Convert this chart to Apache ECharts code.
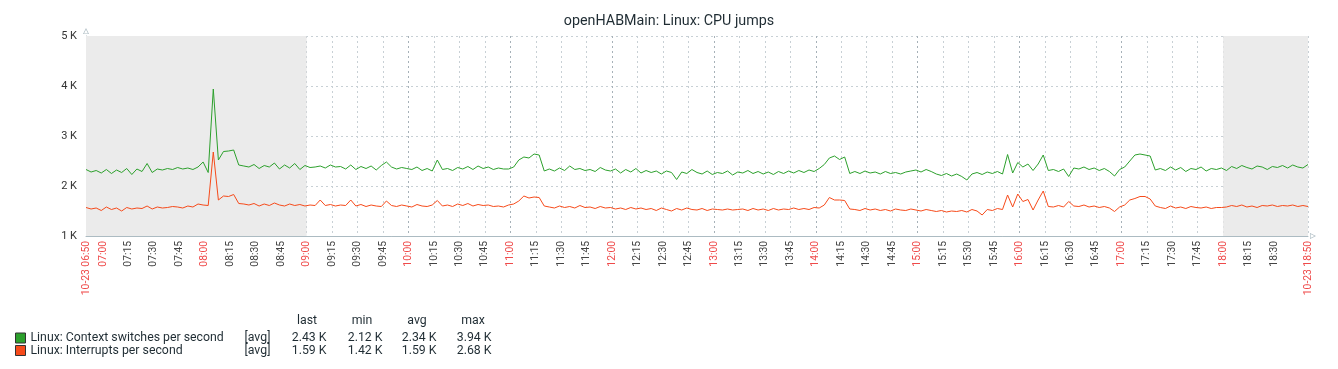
<!DOCTYPE html>
<html><head><meta charset="utf-8">
<script src="https://cdn.jsdelivr.net/npm/echarts@6/dist/echarts.min.js"></script>
<style>html,body{margin:0;padding:0;background:#fff}#c{width:1338px;height:369px}</style>
</head><body><div id="c"></div>
<script>
// 3-minute samples from 10-23 06:50 to 18:50
const STEP = 3;
const START_MIN = 6 * 60 + 50;
const TOTAL_MIN = 720;
const DATE_PREFIX = '10-23 ';
const TITLE = 'openHABMain: Linux: CPU jumps';
const seriesNames = ['Linux: Context switches per second', 'Linux: Interrupts per second'];
const seriesColors = ['#2ca02c', '#f64a1a'];
const statHeaders = ['last', 'min', 'avg', 'max'];
const statsCtx = ['2.43 K', '2.12 K', '2.34 K', '3.94 K'];
const statsInt = ['1.59 K', '1.42 K', '1.59 K', '2.68 K'];
const yTicks = [1000, 2000, 3000, 4000, 5000];
const shaded = [['06:50', '09:00'], ['18:00', '18:50']];

const ctxSwitches = [
  2330,2280,2310,2260,2330,2250,2320,2270,2350,2230,
  2340,2290,2450,2270,2340,2320,2350,2330,2370,2340,
  2360,2330,2380,2480,2270,3940,2520,2690,2700,2720,
  2420,2400,2380,2430,2350,2410,2380,2460,2340,2420,
  2360,2450,2330,2410,2370,2380,2400,2360,2420,2380,
  2390,2340,2420,2330,2390,2350,2400,2320,2410,2480,
  2380,2340,2370,2350,2330,2380,2310,2350,2300,2520,
  2330,2350,2310,2370,2340,2390,2330,2400,2350,2380,
  2330,2360,2340,2340,2380,2520,2580,2560,2640,2620,
  2300,2340,2300,2360,2310,2400,2330,2350,2310,2330,
  2290,2370,2320,2300,2340,2260,2330,2280,2350,2260,
  2310,2270,2300,2240,2300,2270,2130,2280,2250,2330,
  2270,2240,2300,2230,2270,2250,2300,2220,2280,2260,
  2310,2250,2290,2240,2280,2230,2290,2250,2300,2260,
  2310,2270,2320,2290,2350,2430,2560,2600,2530,2580,
  2250,2290,2250,2300,2260,2280,2240,2290,2250,2270,
  2240,2280,2300,2320,2280,2330,2290,2240,2210,2250,
  2200,2240,2190,2120,2240,2270,2230,2280,2250,2290,
  2240,2630,2260,2470,2380,2440,2310,2440,2620,2310,
  2330,2290,2340,2190,2360,2340,2380,2330,2360,2310,
  2350,2290,2200,2330,2380,2500,2620,2640,2620,2600,
  2320,2350,2310,2380,2320,2370,2290,2350,2330,2380,
  2300,2350,2330,2360,2310,2390,2350,2410,2370,2340,
  2400,2380,2330,2390,2370,2410,2360,2420,2380,2360,
  2430
];
const interrupts = [
  1570,1540,1560,1510,1580,1530,1560,1500,1570,1540,
  1560,1550,1600,1540,1580,1560,1570,1590,1580,1560,
  1600,1580,1640,1620,1610,2680,1720,1800,1790,1830,
  1650,1640,1620,1650,1600,1640,1610,1660,1620,1600,
  1640,1610,1630,1600,1620,1610,1720,1610,1630,1600,
  1620,1610,1720,1600,1630,1590,1620,1600,1590,1700,
  1610,1590,1620,1600,1580,1630,1600,1590,1620,1710,
  1600,1620,1590,1640,1610,1650,1600,1630,1610,1620,
  1590,1600,1580,1620,1640,1700,1800,1760,1780,1770,
  1600,1580,1560,1600,1570,1590,1560,1610,1570,1580,
  1550,1590,1560,1570,1540,1560,1530,1570,1540,1560,
  1530,1550,1510,1560,1530,1500,1550,1520,1560,1530,
  1520,1550,1510,1540,1530,1520,1540,1520,1530,1540,
  1510,1550,1520,1540,1510,1550,1520,1540,1530,1560,
  1530,1550,1530,1570,1560,1620,1770,1720,1720,1710,
  1540,1530,1510,1550,1520,1540,1510,1530,1500,1540,
  1520,1510,1540,1520,1500,1530,1510,1490,1510,1480,
  1500,1490,1510,1480,1530,1500,1420,1530,1510,1550,
  1530,1820,1580,1840,1690,1730,1520,1720,1900,1590,
  1580,1610,1580,1690,1600,1590,1620,1580,1600,1570,
  1590,1560,1490,1580,1620,1720,1750,1790,1790,1740,
  1600,1570,1550,1600,1560,1580,1550,1590,1570,1560,
  1580,1550,1570,1570,1580,1610,1590,1620,1580,1600,
  1570,1610,1600,1620,1590,1610,1600,1620,1590,1610,
  1590
];

// minute categories
const categories = [];
for (let m = 0; m <= TOTAL_MIN; m++) {
  const t = START_MIN + m;
  const hh = String(Math.floor(t / 60)).padStart(2, '0');
  const mm = String(t % 60).padStart(2, '0');
  categories.push(hh + ':' + mm);
}
const toPairs = arr => arr.map((v, i) => [categories[i * STEP], v]);
const isEdge = i => i === 0 || i === TOTAL_MIN;
const isQuarter = i => (START_MIN + i) % 15 === 0;
const isHour = i => (START_MIN + i) % 60 === 0;
// a quarter label too close to the end label is skipped
const labelShown = i => isEdge(i) || (isQuarter(i) && TOTAL_MIN - i > 8);

const chart = echarts.init(document.getElementById('c'), null, {renderer: 'canvas'});
const FONT = 'Roboto';
const TXT = '#1f2c33';
const AXIS = '#acbbc2';
const hollowArrow = 'path://M0,10 L5,0 L10,10 Z M1.6,9 L8.4,9 L5,2.4 Z';

function legendRow(name, stats) {
  return '{n|' + name + '}{a|[avg]}{v1|' + stats[0] + '}{v2|' + stats[1] + '}{v3|' + stats[2] + '}{v4|' + stats[3] + '}';
}
const statMap = {};
statMap[seriesNames[0]] = statsCtx;
statMap[seriesNames[1]] = statsInt;

const headerX = [307, 362, 417, 473];
const richCol = (w, al) => ({width: w, align: al, fontSize: 12.3, color: TXT, lineHeight: 14.5, fontFamily: FONT});

chart.setOption({
  animation: false,
  textStyle: {fontFamily: FONT},
  title: {
    text: TITLE, left: 'center', top: 9,
    textStyle: {fontSize: 14.3, fontWeight: 'normal', color: TXT, fontFamily: FONT}
  },
  grid: {left: 86, right: 30, top: 36, bottom: 133, containLabel: false},
  xAxis: [{
    type: 'category', data: categories, boundaryGap: false,
    axisLine: {show: true, lineStyle: {color: AXIS, width: 1},
      symbol: ['none', hollowArrow], symbolSize: [8, 6], symbolOffset: [0, 5]},
    axisTick: {show: false},
    axisLabel: {
      interval: (i) => labelShown(i),
      showMinLabel: true, showMaxLabel: true, hideOverlap: false,
      rotate: 90, fontSize: 10.3, color: '#444', margin: 5, fontFamily: FONT,
      formatter: (v, i) => {
        if (i === 0 || i === TOTAL_MIN) return '{r|' + DATE_PREFIX + v + '}';
        if (v.endsWith(':00')) return '{r|' + v + '}';
        return v;
      },
      rich: {r: {color: '#ef4a4a', fontSize: 10.3, fontFamily: FONT}}
    },
    splitLine: {show: true, interval: (i) => (isQuarter(i) && !isHour(i)) || i === TOTAL_MIN,
      lineStyle: {color: '#c8d0d5', type: [2, 3], width: 1}}
  }, {
    type: 'category', data: categories, boundaryGap: false, position: 'top',
    axisLine: {show: false}, axisTick: {show: false}, axisLabel: {show: false},
    splitLine: {show: true, interval: (i) => isHour(i),
      lineStyle: {color: '#a6b1b8', type: [2, 3], width: 1}}
  }],
  yAxis: {
    type: 'value', min: yTicks[0], max: yTicks[yTicks.length - 1], interval: 1000,
    axisLine: {show: true, lineStyle: {color: AXIS, width: 1},
      symbol: ['none', hollowArrow], symbolSize: [8, 6], symbolOffset: [0, 5]},
    axisTick: {show: false},
    axisLabel: {fontSize: 11, color: '#333', margin: 9, fontFamily: FONT,
      formatter: v => (v / 1000) + ' K'},
    splitLine: {show: true, lineStyle: {color: '#c8d0d5', type: [2, 3], width: 1}}
  },
  legend: {
    orient: 'vertical', left: 10, top: 327, itemWidth: 10, itemHeight: 10, itemGap: 0.5,
    icon: 'rect', selectedMode: false,
    data: seriesNames.map((n, k) => ({name: n, itemStyle: {color: seriesColors[k], borderColor: '#333', borderWidth: 1}})),
    formatter: n => legendRow(n, statMap[n]),
    textStyle: {
      color: TXT, fontSize: 12.3, fontFamily: FONT, padding: [0, 0, 0, 0],
      rich: {
        n: richCol(214, 'left'),
        a: richCol(29, 'left'),
        v1: richCol(53, 'right'),
        v2: richCol(56, 'right'),
        v3: richCol(54, 'right'),
        v4: richCol(55, 'right')
      }
    }
  },
  graphic: statHeaders.map((h, k) => ({
    type: 'text', x: headerX[k], y: 315,
    style: {text: h, fill: TXT, fontSize: 12.3, fontFamily: FONT, textAlign: 'center'}
  })),
  series: [{
    name: '__shade', type: 'line', z: -1, silent: true, data: toPairs(ctxSwitches),
    showSymbol: false, lineStyle: {opacity: 0}, legendHoverLink: false,
    markArea: {silent: true, itemStyle: {color: '#ebebeb'},
      data: shaded.map(s => [{xAxis: s[0]}, {xAxis: s[1]}])}
  }, {
    name: seriesNames[0], type: 'line', data: toPairs(ctxSwitches), showSymbol: false,
    lineStyle: {width: 1, color: seriesColors[0]}, itemStyle: {color: seriesColors[0]}, z: 3
  }, {
    name: seriesNames[1], type: 'line', data: toPairs(interrupts), showSymbol: false,
    lineStyle: {width: 1, color: seriesColors[1]}, itemStyle: {color: seriesColors[1]}, z: 3
  }]
});
</script></body></html>
